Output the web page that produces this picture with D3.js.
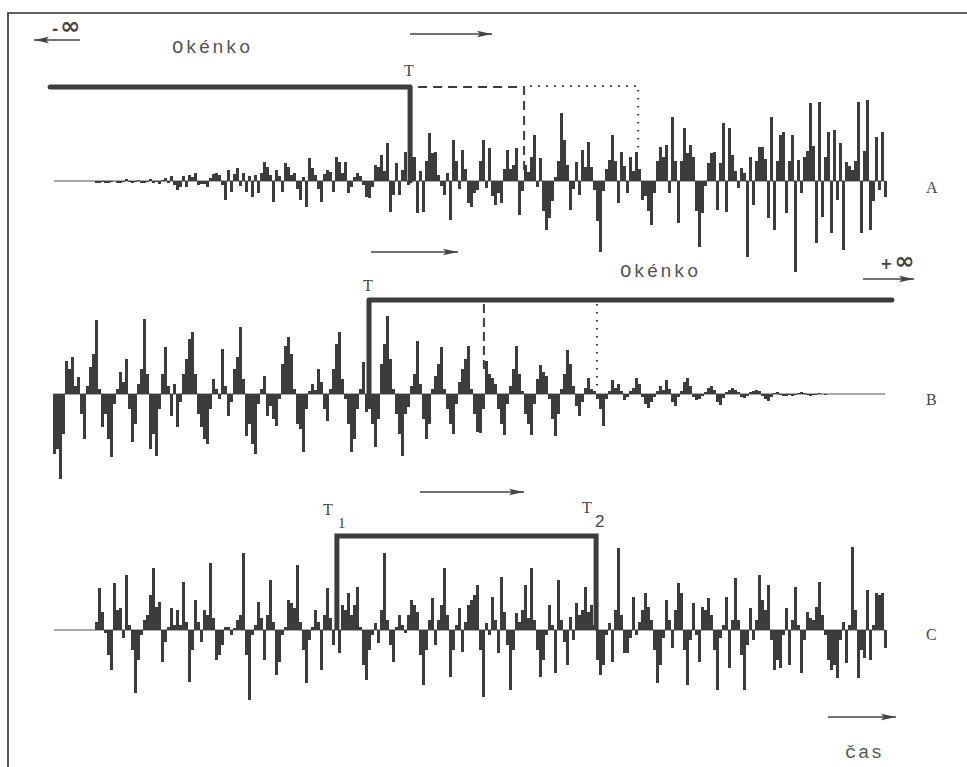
<!DOCTYPE html>
<html>
<head>
<meta charset="utf-8">
<script src="https://cdn.jsdelivr.net/npm/d3@7"></script>
<style>
  html, body { margin: 0; padding: 0; background: #ffffff; }
  svg { display: block; }
</style>
</head>
<body>
<svg id="chart" width="967" height="767"></svg>
<script>
// Sampled signal amplitudes, one value per time step (positive = above the zero line).
const traceA = [
  0,0,0,0,0,0,0,0,0,0,
  0,0,0,0,-2,-2,-1,-2,-2,-1,
  0,-2,-2,-1,2,-1,-2,-1,1,-2,
  -2,-1,2,-2,-1,-3,1,3,-2,5,
  -4,-9,-6,5,-6,6,4,8,-4,-3,
  -3,-6,3,7,8,6,-4,-19,11,-11,
  7,13,-5,8,-11,5,-16,6,-12,8,
  19,14,6,-21,11,5,-11,18,14,6,
  8,-8,-19,4,-26,23,13,6,-8,-21,
  7,11,9,-11,24,19,8,19,-12,-6,
  4,8,5,-4,-16,-17,-6,16,14,26,
  10,38,-31,-14,18,-14,11,29,-4,24,
  24,-32,10,-31,20,48,28,29,6,-5,
  -14,8,-39,41,20,-8,31,12,-22,-26,
  -12,-9,20,41,-7,33,-15,-24,-12,-22,
  12,31,12,16,33,-34,-10,16,9,24,
  46,-6,23,-30,-49,-37,-20,4,20,68,
  41,16,-29,-8,19,-14,31,14,39,14,
  -9,-40,-71,-10,12,21,46,20,-22,29,
  15,-12,24,10,29,12,-19,-15,-30,-44,
  -12,20,34,24,36,-12,64,20,-42,20,
  53,28,36,24,-30,-66,-32,-5,18,28,
  29,-29,18,58,-31,53,26,10,-7,13,
  8,-76,24,-24,20,34,34,22,-37,64,
  -49,20,46,49,-32,20,46,-91,21,-12,
  24,30,78,35,-62,79,-36,24,49,-52,
  51,-19,38,-69,19,15,11,20,79,-52,
  30,81,-49,-20,44,-9,49,-16
];

const traceB = [
  -60,-55,-85,-40,33,25,37,8,17,-20,
  -45,8,27,40,74,5,-33,-20,-45,-63,
  -10,5,22,12,35,-15,-48,-30,10,25,
  75,20,-55,-40,-62,-15,20,47,8,-22,
  10,-33,-8,20,35,55,62,20,-20,-33,
  -45,-50,-15,15,5,-5,45,8,-22,-8,
  25,37,67,15,-42,-30,-50,-60,-10,5,
  18,-22,-12,-25,-32,-5,30,48,57,40,
  5,-30,-35,-58,-15,3,10,4,25,12,
  -15,-27,5,25,50,62,15,-5,-30,-58,
  -45,-15,5,32,-18,-15,-30,-53,-25,30,
  50,78,35,5,-20,-40,-62,-20,-13,8,
  20,53,10,-25,-45,-30,5,18,30,47,
  5,-15,-30,-40,-10,12,25,35,48,5,
  -20,-38,-39,-15,33,20,16,10,-15,-30,
  -41,-10,8,25,48,20,3,-20,-30,-41,
  -10,15,29,22,18,-5,-25,-42,-20,5,
  20,44,30,8,-12,-22,-8,6,16,5,
  3,-5,-15,-32,-5,3,14,6,10,3,
  -6,-3,3,6,16,10,-3,-10,-14,-8,
  -3,3,8,4,14,5,-8,-12,-3,3,
  12,16,8,-3,-6,-5,-2,2,6,8,
  4,-8,-11,-4,2,4,6,4,2,-3,
  -4,-2,2,3,4,3,-2,-5,-7,-3,
  1,2,-1,-2,-2,-1,-2,-1,1,2,
  1,-1,-2,-1,-1,1,0,-1,0,0,
  0,0,0,0,0,0,0,0,0,0,
  0,0,0,0,0,0,0,0
];

const traceC = [
  0,0,0,0,0,0,0,0,0,0,
  0,0,0,0,8,42,18,-3,-25,-40,
  47,20,22,-8,55,5,-20,-63,-30,-5,
  10,15,35,62,23,28,-32,-12,3,22,
  5,20,5,48,8,-52,-20,30,8,-12,
  20,15,67,12,-30,-25,-15,3,3,-5,
  2,10,15,77,-25,-70,-5,5,28,12,
  -30,15,50,8,-45,-32,-5,3,30,27,
  22,65,8,-20,-53,-10,3,20,8,-40,
  15,42,12,-15,5,-23,25,20,37,15,
  25,43,3,-35,-50,-20,-5,7,-13,20,
  77,10,-15,-32,3,15,5,-3,15,30,
  25,18,-25,-55,-20,10,32,-15,10,25,
  62,15,-47,-20,5,22,-22,8,25,30,
  35,45,-20,-67,7,-5,33,10,-23,53,
  18,-15,-60,-20,17,8,20,45,12,62,
  10,-20,-47,-30,-5,25,5,-43,50,10,
  -12,-35,13,-10,27,15,20,43,18,25,
  5,-30,-45,-35,-5,7,-32,20,82,15,
  -23,-23,-8,33,-5,8,20,37,23,10,
  -20,-53,-35,-8,30,10,-18,20,47,37,
  -20,-55,-10,27,-5,-32,23,20,32,15,
  -20,-60,-8,5,33,-38,10,52,10,-25,
  -60,-15,22,-10,10,55,30,20,45,-10,
  -40,-30,-38,-5,22,-35,10,43,5,-43,
  -10,18,12,10,23,48,15,-5,-30,-40,
  -35,-48,-10,8,-33,5,83,20,-48,-20,
  -28,40,-30,5,37,35,37,-18
];

// Window boundaries, in the same time-step units as the samples.
const windowA = { start: -1.3, T: 118.7, dashed: 156.7, dotted: 194.7 };
const windowB = { T: 105, dashed: 143.3, dotted: 181, end: 279.3 };
const windowC = { T1: 94.3, T2: 180.7 };

const traceNames = ["A", "B", "C"];
const windowLabel = "Okénko";
const timeLabel = "čas";

const svg = d3.select("#chart");
const ink = "#3c3c3c";

// Page frame (top and left rule)
svg.append("path")
  .attr("d", "M8,767 L8,13 L967,13")
  .attr("fill", "none").attr("stroke", "#2e2e2e").attr("stroke-width", 1.6);

const x = d3.scaleLinear().domain([0, traceA.length - 1]).range([54, 885]);

const traces = [
  { name: traceNames[0], data: traceA, base: 181, labelY: 193 },
  { name: traceNames[1], data: traceB, base: 394, labelY: 405 },
  { name: traceNames[2], data: traceC, base: 630, labelY: 640 }
];

traces.forEach(t => {
  const y = d3.scaleLinear().domain([-100, 100]).range([t.base + 100, t.base - 100]);
  t.y = y;
  const g = svg.append("g");
  // zero line
  g.append("line")
    .attr("x1", x(0)).attr("x2", x(t.data.length - 1))
    .attr("y1", y(0)).attr("y2", y(0))
    .attr("stroke", "#555").attr("stroke-width", 1);
  // sample bars
  g.append("g").attr("shape-rendering", "crispEdges")
    .selectAll("rect").data(t.data).join("rect")
    .attr("x", (d, i) => x(i) - 1.5)
    .attr("width", 3)
    .attr("y", d => Math.min(y(d), y(0)))
    .attr("height", d => Math.abs(y(d) - y(0)))
    .attr("fill", ink);
  // trace label
  svg.append("text")
    .attr("x", 926).attr("y", t.labelY)
    .attr("font-family", "Liberation Serif, serif")
    .attr("font-size", 16).attr("fill", "#444")
    .text(t.name);
});

const yA = traces[0].y, yB = traces[1].y, yC = traces[2].y;

function arrow(x1, x2, yy, dir) {
  // thin line with a slim arrow head at x2
  svg.append("line").attr("x1", x1).attr("x2", x2).attr("y1", yy).attr("y2", yy)
    .attr("stroke", "#444").attr("stroke-width", 1.6);
  const s = dir > 0 ? 1 : -1;
  svg.append("path")
    .attr("d", `M${x2},${yy} L${x2 - s * 15},${yy - 3.2} L${x2 - s * 12},${yy} L${x2 - s * 15},${yy + 3.2} Z`)
    .attr("fill", "#444");
}

function label(txt, xx, yy, size, fam, opts = {}) {
  return svg.append("text").attr("x", xx).attr("y", yy)
    .attr("font-family", fam).attr("font-size", size)
    .attr("fill", opts.fill || "#444")
    .attr("font-weight", opts.weight || "normal")
    .attr("letter-spacing", opts.ls || 0)
    .attr("text-anchor", opts.anchor || "start")
    .text(txt);
}

// sign followed by a larger infinity glyph, as one text element
function infinity(sign, xx, yy) {
  const t = svg.append("text").attr("x", xx).attr("y", yy)
    .attr("font-family", "DejaVu Sans, sans-serif").attr("font-weight", "bold")
    .attr("fill", "#444");
  t.append("tspan").attr("font-size", 15).text(sign);
  t.append("tspan").attr("font-size", 24).attr("dx", 2).text("∞");
}

const mono = "Liberation Mono, DejaVu Sans Mono, monospace";
const serif = "Liberation Serif, serif";

// ---- Window A : (-inf, T] ----
const topA = 87;
svg.append("path")
  .attr("d", `M${x(windowA.start)},${topA} L${x(windowA.T)},${topA} L${x(windowA.T)},${yA(0)}`)
  .attr("fill", "none").attr("stroke", ink).attr("stroke-width", 5)
  .attr("stroke-linecap", "round").attr("stroke-linejoin", "round");
svg.append("path")
  .attr("d", `M${x(windowA.T) + 8},${topA} L${x(windowA.dashed)},${topA} L${x(windowA.dashed)},${yA(0) - 6}`)
  .attr("fill", "none").attr("stroke", ink).attr("stroke-width", 2)
  .attr("stroke-dasharray", "9,6");
svg.append("path")
  .attr("d", `M${x(windowA.dashed) + 6},${topA - 1} L${x(windowA.dotted)},${topA - 1} L${x(windowA.dotted)},${yA(0) - 28}`)
  .attr("fill", "none").attr("stroke", ink).attr("stroke-width", 2)
  .attr("stroke-dasharray", "1.6,6.4");
label("T", x(windowA.T) - 6, 76, 16, serif);
label(windowLabel, 172, 53, 19, mono, { ls: 2, fill: "#555" });
infinity("-", 52, 34);
arrow(80, 34, 40, -1);
arrow(410, 492, 34, 1);

// ---- Window B : [T, +inf) ----
const topB = 300;
svg.append("path")
  .attr("d", `M${x(windowB.end)},${topB} L${x(windowB.T)},${topB} L${x(windowB.T)},${yB(0)}`)
  .attr("fill", "none").attr("stroke", ink).attr("stroke-width", 5)
  .attr("stroke-linecap", "round").attr("stroke-linejoin", "round");
svg.append("line")
  .attr("x1", x(windowB.dashed)).attr("x2", x(windowB.dashed))
  .attr("y1", topB + 4).attr("y2", yB(0) - 22)
  .attr("stroke", ink).attr("stroke-width", 2).attr("stroke-dasharray", "9,5");
svg.append("line")
  .attr("x1", x(windowB.dotted)).attr("x2", x(windowB.dotted))
  .attr("y1", topB + 4).attr("y2", yB(0) - 2)
  .attr("stroke", ink).attr("stroke-width", 2).attr("stroke-dasharray", "1.6,6.4");
label("T", x(windowB.T) - 6, 291, 16, serif);
label(windowLabel, 620, 277, 19, mono, { ls: 2, fill: "#555" });
infinity("+", 880, 269);
arrow(863, 914, 279, 1);
arrow(371, 458, 252, 1);

// ---- Window C : [T1, T2] ----
const topC = 536;
svg.append("path")
  .attr("d", `M${x(windowC.T1)},${yC(0)} L${x(windowC.T1)},${topC} L${x(windowC.T2)},${topC} L${x(windowC.T2)},${yC(0)}`)
  .attr("fill", "none").attr("stroke", ink).attr("stroke-width", 5)
  .attr("stroke-linejoin", "miter");
label("T", 323, 515, 16, serif);
label("1", 338, 528, 15, serif);
label("T", 582, 513, 16, serif);
label("2", 595, 527, 17, "Liberation Sans, sans-serif");
arrow(420, 524, 492, 1);

// ---- time axis arrow ----
arrow(828, 896, 717, 1);
label(timeLabel, 845, 758, 19, mono, { ls: 1.5, fill: "#555" });
</script>
</body>
</html>
